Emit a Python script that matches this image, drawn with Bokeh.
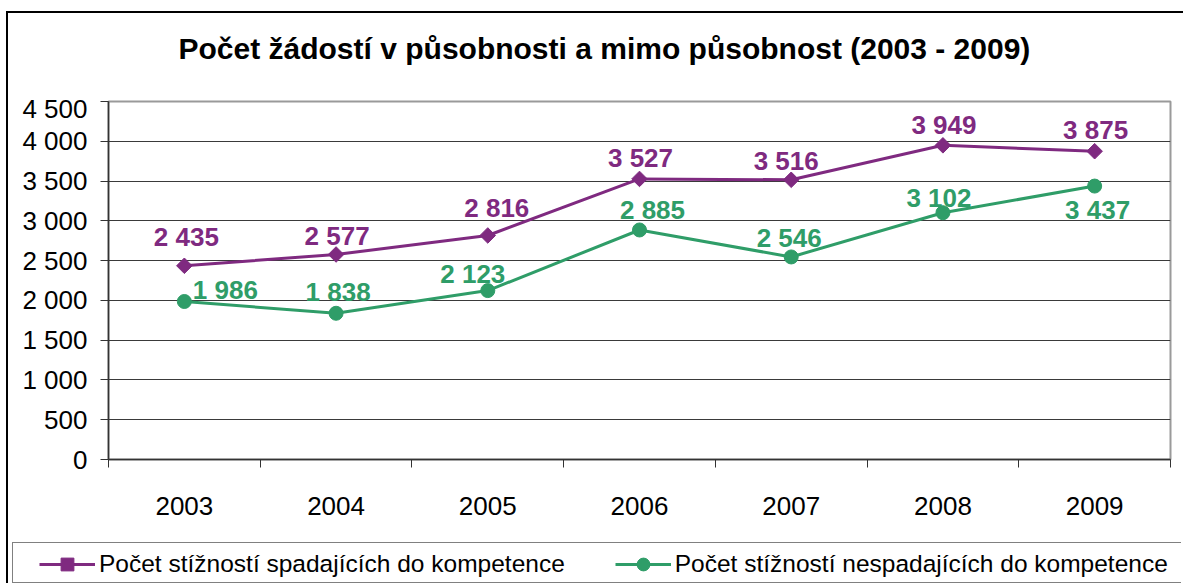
import math
from bokeh.plotting import figure
from bokeh.layouts import column
from bokeh.models import (ColumnDataSource, FixedTicker, LabelSet, Legend, LegendItem,
                          Range1d, Title)
from bokeh.core.properties import value
from bokeh.embed import file_html
from bokeh.resources import INLINE

# ---- data ----
years = ["2003", "2004", "2005", "2006", "2007", "2008", "2009"]
in_scope = [2435, 2577, 2816, 3527, 3516, 3949, 3875]
out_scope = [1986, 1838, 2123, 2885, 2546, 3102, 3437]
y_ticks = [0, 500, 1000, 1500, 2000, 2500, 3000, 3500, 4000, 4500]
y_tick_labels = ["0", "500", "1 000", "1 500", "2 000", "2 500", "3 000", "3 500", "4 000", "4 500"]
series_names = ["Počet stížností spadajících do kompetence",
                "Počet stížností nespadajících do kompetence"]
title_text = "Počet žádostí v působnosti a mimo působnost (2003 - 2009)"

# ---- label placement (style, px) ----
in_dx = [2, 1, 9, 1, -5, 1, 1]
in_dy = [29, 18, 27, 21, 19, 20, 21]
out_dx = [41, 2, -15, 13, -2, -4, 3]
out_dy = [12, 21, 17, 20, 19, 15, -24]

PURPLE = "#7f2a80"
GREEN = "#2f9d68"
FONT = "Liberation Sans"


def fmt(v):
    return f"{v:,}".replace(",", " ")


xs = [i + 0.5 for i in range(len(years))]

# ---- title strip ----
tf = figure(width=1175, height=80, x_range=Range1d(0, 1), y_range=Range1d(0, 1),
            x_axis_type=None, y_axis_type=None, output_backend="svg", toolbar_location=None,
            min_border_left=100, min_border_right=13, min_border_top=56, min_border_bottom=0)
tf.outline_line_color = None
tf.grid.visible = False
tf.add_layout(Title(text=title_text, align="left", offset=70, text_font=FONT,
                    text_font_size="30px", text_font_style="bold", text_color="black",
                    standoff=10), "above")

# ---- main chart ----
p = figure(width=1175, height=449, x_range=Range1d(0, len(years)), y_range=Range1d(0, 4500),
           output_backend="svg", toolbar_location=None,
           min_border_left=100, min_border_right=13, min_border_top=8, min_border_bottom=83)
p.background_fill_color = "white"
p.border_fill_color = "white"
p.outline_line_color = "#9a9a9a"
p.outline_line_width = 2

p.xgrid.visible = False
p.ygrid.ticker = FixedTicker(ticks=y_ticks, minor_ticks=[])
p.ygrid.grid_line_color = "#3a3a3a"
p.ygrid.grid_line_width = 1

p.yaxis.ticker = FixedTicker(ticks=y_ticks, minor_ticks=[])
p.yaxis.major_label_overrides = {t: l for t, l in zip(y_ticks, y_tick_labels)}
p.yaxis.major_tick_out = 8
p.yaxis.major_tick_in = 0
p.yaxis.minor_tick_out = 0
p.yaxis.minor_tick_in = 0
p.yaxis.axis_line_color = "#333333"
p.yaxis.axis_line_width = 1.5
p.yaxis.major_tick_line_color = "#333333"
p.yaxis.major_label_standoff = 13
p.yaxis.major_label_text_font = FONT
p.yaxis.major_label_text_font_size = "26px"
p.yaxis.major_label_text_color = "black"

p.xaxis.ticker = FixedTicker(ticks=xs, minor_ticks=list(range(len(years) + 1)))
p.xaxis.major_label_overrides = {x: y for x, y in zip(xs, years)}
p.xaxis.major_tick_out = 0
p.xaxis.major_tick_in = 0
p.xaxis.minor_tick_out = 8
p.xaxis.minor_tick_in = 0
p.xaxis.minor_tick_line_color = "#333333"
p.xaxis.axis_line_color = "#333333"
p.xaxis.axis_line_width = 1.5
p.xaxis.major_label_standoff = 29
p.xaxis.major_label_text_font = FONT
p.xaxis.major_label_text_font_size = "26px"
p.xaxis.major_label_text_color = "black"

src_in = ColumnDataSource(dict(x=xs, y=in_scope, text=[fmt(v) for v in in_scope], dx=in_dx, dy=in_dy))
src_out = ColumnDataSource(dict(x=xs, y=out_scope, text=[fmt(v) for v in out_scope], dx=out_dx, dy=out_dy))

line_in = dict(line_color=PURPLE, line_width=3)
mark_in = dict(marker="square", size=11, angle=math.pi / 4, fill_color=PURPLE, line_color=PURPLE)
line_out = dict(line_color=GREEN, line_width=3)
mark_out = dict(marker="circle", size=14, fill_color=GREEN, line_color=GREEN)

p.line('x', 'y', source=src_in, **line_in)
p.scatter('x', 'y', source=src_in, **mark_in)
p.line('x', 'y', source=src_out, **line_out)
p.scatter('x', 'y', source=src_out, **mark_out)

for src, col in ((src_in, PURPLE), (src_out, GREEN)):
    p.add_layout(LabelSet(x='x', y='y', text='text', x_offset='dx', y_offset='dy', source=src,
                          text_align='center', text_baseline='middle',
                          text_font=value(FONT), text_font_size='26px', text_font_style='bold',
                          text_color=col))

# ---- legend strip: its own root, framed like the original legend box ----
lf = figure(width=1169, height=41, x_range=Range1d(0, 1), y_range=Range1d(0, 1),
            x_axis_type=None, y_axis_type=None, output_backend="svg", toolbar_location=None,
            min_border_left=0, min_border_right=0, min_border_top=0, min_border_bottom=0,
            margin=(0, 0, 0, 4),
            styles={"border-left": "1.5px solid #808080", "border-top": "1.5px solid #808080",
                    "border-bottom": "1.5px solid #808080"})
lf.outline_line_color = None
lf.grid.visible = False
nan = [float("nan")]
l1 = lf.line(x=nan, y=nan, **line_in)
m1 = lf.scatter(x=nan, y=nan, **mark_in)
l2 = lf.line(x=nan, y=nan, **line_out)
m2 = lf.scatter(x=nan, y=nan, **mark_out)

legend = Legend(items=[LegendItem(label=series_names[0], renderers=[l1, m1]),
                       LegendItem(label=series_names[1], renderers=[l2, m2])],
                orientation="horizontal", location="left", margin=23,
                border_line_alpha=0, background_fill_alpha=0,
                glyph_width=56, glyph_height=32, label_standoff=4, spacing=50, padding=3,
                label_text_font=FONT, label_text_font_size="24.5px", label_text_color="black")
lf.add_layout(legend, "center")

top_part = column(tf, p, margin=(11, 0, 0, 6),
                  styles={"border-left": "2px solid #000000", "border-top": "2px solid #000000"})
bottom_part = column(lf, margin=(0, 0, 0, 6), styles={"border-left": "2px solid #000000"})

open("out.html", "w").write(file_html([top_part, bottom_part], INLINE))
